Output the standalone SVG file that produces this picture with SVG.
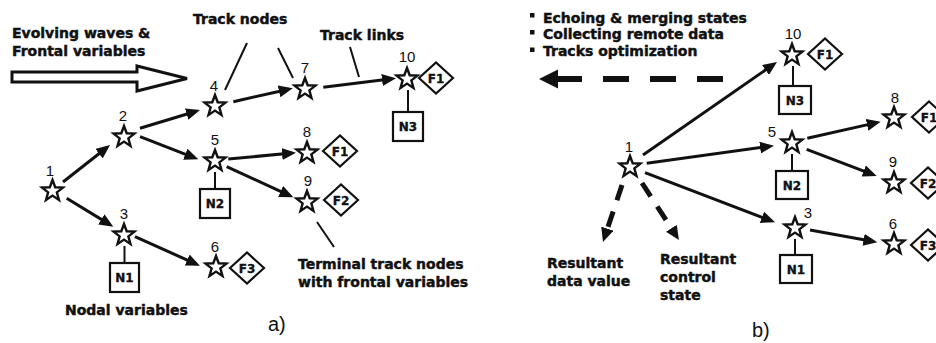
<svg xmlns="http://www.w3.org/2000/svg" width="936" height="343" viewBox="0 0 936 343">
<style>
.lbl{font-family:"DejaVu Sans","Liberation Sans",sans-serif;font-weight:bold;font-size:14px;fill:#111;stroke:#111;stroke-width:0.45}
.num{font-family:"Liberation Sans",Arial,sans-serif;font-size:15px;fill:#111;text-anchor:middle}
.box{fill:#fff;stroke:#111;stroke-width:2.2}
.bt{font-family:"DejaVu Sans","Liberation Sans",sans-serif;font-weight:bold;font-size:12px;fill:#111;stroke:#111;stroke-width:0.35;text-anchor:middle}
.st{fill:#fff;stroke:#111;stroke-width:2.4;stroke-linejoin:miter}
.ar{stroke:#111;stroke-width:3;fill:none}
.ln{stroke:#111;stroke-width:2;fill:none}
.dash{stroke:#111;stroke-width:5;fill:none;stroke-dasharray:16 12}
.cap{font-family:"Liberation Sans",Arial,sans-serif;font-size:20px;fill:#111}
</style>
<defs>
<path id="star" d="M0,-11 L2.7,-3.72 L10.46,-3.4 L4.37,1.42 L6.47,8.9 L0,4.6 L-6.47,8.9 L-4.37,1.42 L-10.46,-3.4 L-2.7,-3.72 Z"/>
<path id="dia" d="M-17,0 L0,-15.5 L17,0 L0,15.5 Z"/>
<marker id="ah" viewBox="0 0 14 12" refX="10" refY="6" markerWidth="14" markerHeight="12" markerUnits="userSpaceOnUse" orient="auto"><path d="M0,0 L14,6 L0,12 Z" fill="#111"/></marker>
<marker id="ahd" viewBox="0 0 14 13" refX="6" refY="6.5" markerWidth="14" markerHeight="13" markerUnits="userSpaceOnUse" orient="auto"><path d="M0,0 L14,6.5 L0,13 Z" fill="#111"/></marker>
</defs>
<rect width="936" height="343" fill="#fff"/>

<!-- Panel a texts -->
<g id="a-labels">
<text class="lbl" x="12" y="38">Evolving waves &amp;</text>
<text class="lbl" x="12" y="56">Frontal variables</text>
<text class="lbl" x="193" y="24">Track nodes</text>
<text class="lbl" x="320" y="40">Track links</text>
<text class="lbl" x="65" y="315">Nodal variables</text>
<text class="lbl" x="298" y="269">Terminal track nodes</text>
<text class="lbl" x="298" y="287">with frontal variables</text>
<text class="cap" x="268" y="331">a)</text>
</g>
<polygon id="a-bigarrow" points="12,72 137,72 137,66 187,78.5 137,91 137,82 12,82" fill="#fff" stroke="#111" stroke-width="3" stroke-linejoin="miter"/>

<!-- connectors -->
<g id="connectors">
<line class="ar" x1="63" y1="182" x2="106.9" y2="147.5" marker-end="url(#ah)"/>
<line class="ar" x1="66.7" y1="198.3" x2="109.9" y2="224.6" marker-end="url(#ah)"/>
<line class="ar" x1="140" y1="128.3" x2="196.2" y2="111.2" marker-end="url(#ah)"/>
<line class="ar" x1="140" y1="136.7" x2="194.6" y2="157.9" marker-end="url(#ah)"/>
<line class="ar" x1="135" y1="236.7" x2="196.3" y2="264.1" marker-end="url(#ah)"/>
<line class="ar" x1="233.3" y1="101.7" x2="288.8" y2="89.2" marker-end="url(#ah)"/>
<line class="ar" x1="323.3" y1="87.3" x2="392" y2="78.8" marker-end="url(#ah)"/>
<line class="ar" x1="228.3" y1="159" x2="292" y2="153.1" marker-end="url(#ah)"/>
<line class="ar" x1="226.7" y1="166.7" x2="289.7" y2="195.6" marker-end="url(#ah)"/>
<line class="ln" x1="124.5" y1="246" x2="124.5" y2="263"/>
<line class="ln" x1="215" y1="172" x2="215" y2="189"/>
<line class="ln" x1="408" y1="90" x2="408" y2="112"/>
<line class="ln" x1="247" y1="43" x2="225" y2="90"/>
<line class="ln" x1="278" y1="48" x2="293" y2="78"/>
<line class="ln" x1="350" y1="47" x2="359" y2="77"/>
<line class="ln" x1="317" y1="222" x2="334" y2="247"/>

<line class="ar" x1="643" y1="155" x2="773.7" y2="64.3" marker-end="url(#ah)"/>
<line class="ar" x1="646.7" y1="163.3" x2="770" y2="146.2" marker-end="url(#ah)"/>
<line class="ar" x1="645" y1="172.7" x2="771.3" y2="220.9" marker-end="url(#ah)"/>
<line class="ar" x1="807.3" y1="138.3" x2="876.8" y2="122.6" marker-end="url(#ah)"/>
<line class="ar" x1="806.7" y1="149.3" x2="873" y2="174.6" marker-end="url(#ah)"/>
<line class="ar" x1="810" y1="230" x2="873.4" y2="241.6" marker-end="url(#ah)"/>
<line class="ln" x1="793" y1="66" x2="793" y2="86"/>
<line class="ln" x1="792" y1="154" x2="792" y2="171"/>
<line class="ln" x1="795" y1="239" x2="795" y2="255"/>
<line class="dash" x1="622" y1="185" x2="605.5" y2="234.4" marker-end="url(#ahd)"/>
<line class="dash" x1="642" y1="183" x2="674.6" y2="233.3" marker-end="url(#ahd)"/>
<line x1="723" y1="79" x2="556" y2="79" stroke="#111" stroke-width="6" stroke-dasharray="26 21"/>
<polygon points="539,79 558,69.5 558,88.5" fill="#111"/>
</g>

<!-- Panel a nodes -->
<g id="a-node1"><use href="#star" x="52.5" y="191" class="st"/><text class="num" x="50" y="176">1</text></g>
<g id="a-node2"><use href="#star" x="124" y="137" class="st"/><text class="num" x="123" y="121">2</text></g>
<g id="a-node3"><use href="#star" x="124" y="235" class="st"/><text class="num" x="124" y="219">3</text></g>
<g id="a-node4"><use href="#star" x="215" y="106" class="st"/><text class="num" x="214" y="91">4</text></g>
<g id="a-node5"><use href="#star" x="215" y="161" class="st"/><text class="num" x="215" y="145">5</text></g>
<g id="a-node6"><use href="#star" x="216" y="267" class="st"/><text class="num" x="215" y="252">6</text></g>
<g id="a-node7"><use href="#star" x="305" y="89" class="st"/><text class="num" x="305" y="73">7</text></g>
<g id="a-node8"><use href="#star" x="307" y="153" class="st"/><text class="num" x="307" y="137">8</text></g>
<g id="a-node9"><use href="#star" x="307" y="202" class="st"/><text class="num" x="308" y="186">9</text></g>
<g id="a-node10"><use href="#star" x="407" y="79" class="st"/><text class="num" x="407" y="62">10</text></g>
<g id="a-N1"><rect class="box" x="110" y="263" width="29" height="29"/><text class="bt" x="124.5" y="282">N1</text></g>
<g id="a-N2"><rect class="box" x="200" y="189" width="30" height="29"/><text class="bt" x="215" y="208">N2</text></g>
<g id="a-N3"><rect class="box" x="393" y="112" width="30" height="29"/><text class="bt" x="408" y="131">N3</text></g>
<g id="a-F1a"><use href="#dia" x="436" y="78" class="box"/><text class="bt" x="436" y="82.5">F1</text></g>
<g id="a-F1b"><use href="#dia" x="340" y="151" class="box"/><text class="bt" x="340" y="155.5">F1</text></g>
<g id="a-F2"><use href="#dia" x="341" y="200" class="box"/><text class="bt" x="341" y="204.5">F2</text></g>
<g id="a-F3"><use href="#dia" x="247" y="268" class="box"/><text class="bt" x="247" y="272.5">F3</text></g>

<!-- Panel b texts -->
<g id="b-labels">
<rect x="530" y="13" width="4.5" height="4.5" fill="#111"/>
<rect x="530" y="30" width="4.5" height="4.5" fill="#111"/>
<rect x="530" y="47.5" width="4.5" height="4.5" fill="#111"/>
<text class="lbl" x="543" y="22.5">Echoing &amp; merging states</text>
<text class="lbl" x="543" y="39">Collecting remote data</text>
<text class="lbl" x="543" y="56">Tracks optimization</text>
<text class="lbl" x="547" y="268">Resultant</text>
<text class="lbl" x="547" y="286">data value</text>
<text class="lbl" x="660" y="264">Resultant</text>
<text class="lbl" x="660" y="282">control</text>
<text class="lbl" x="660" y="300">state</text>
<text class="cap" x="752" y="337">b)</text>
</g>

<!-- Panel b nodes -->
<g id="b-node1"><use href="#star" x="630" y="167" class="st"/><text class="num" x="629" y="152">1</text></g>
<g id="b-node10"><use href="#star" x="792" y="55" class="st"/><text class="num" x="793" y="39">10</text></g>
<g id="b-node5"><use href="#star" x="792" y="143" class="st"/><text class="num" x="772" y="137">5</text></g>
<g id="b-node3"><use href="#star" x="795" y="228" class="st"/><text class="num" x="808" y="218">3</text></g>
<g id="b-node8"><use href="#star" x="894" y="118" class="st"/><text class="num" x="895" y="103">8</text></g>
<g id="b-node9"><use href="#star" x="894" y="183" class="st"/><text class="num" x="893" y="167">9</text></g>
<g id="b-node6"><use href="#star" x="894" y="244" class="st"/><text class="num" x="893" y="229">6</text></g>
<g id="b-N3"><rect class="box" x="779" y="86" width="32" height="28"/><text class="bt" x="795" y="104.5">N3</text></g>
<g id="b-N2"><rect class="box" x="776" y="171" width="32" height="28"/><text class="bt" x="792" y="189.5">N2</text></g>
<g id="b-N1"><rect class="box" x="780" y="255" width="32" height="28"/><text class="bt" x="796" y="273.5">N1</text></g>
<g id="b-F1a"><use href="#dia" x="825" y="54" class="box"/><text class="bt" x="825" y="58.5">F1</text></g>
<g id="b-F1b"><use href="#dia" x="929" y="117" class="box"/><text class="bt" x="929" y="121.5">F1</text></g>
<g id="b-F2"><use href="#dia" x="928" y="183" class="box"/><text class="bt" x="928" y="187.5">F2</text></g>
<g id="b-F3"><use href="#dia" x="928" y="245" class="box"/><text class="bt" x="928" y="249.5">F3</text></g>
</svg>
